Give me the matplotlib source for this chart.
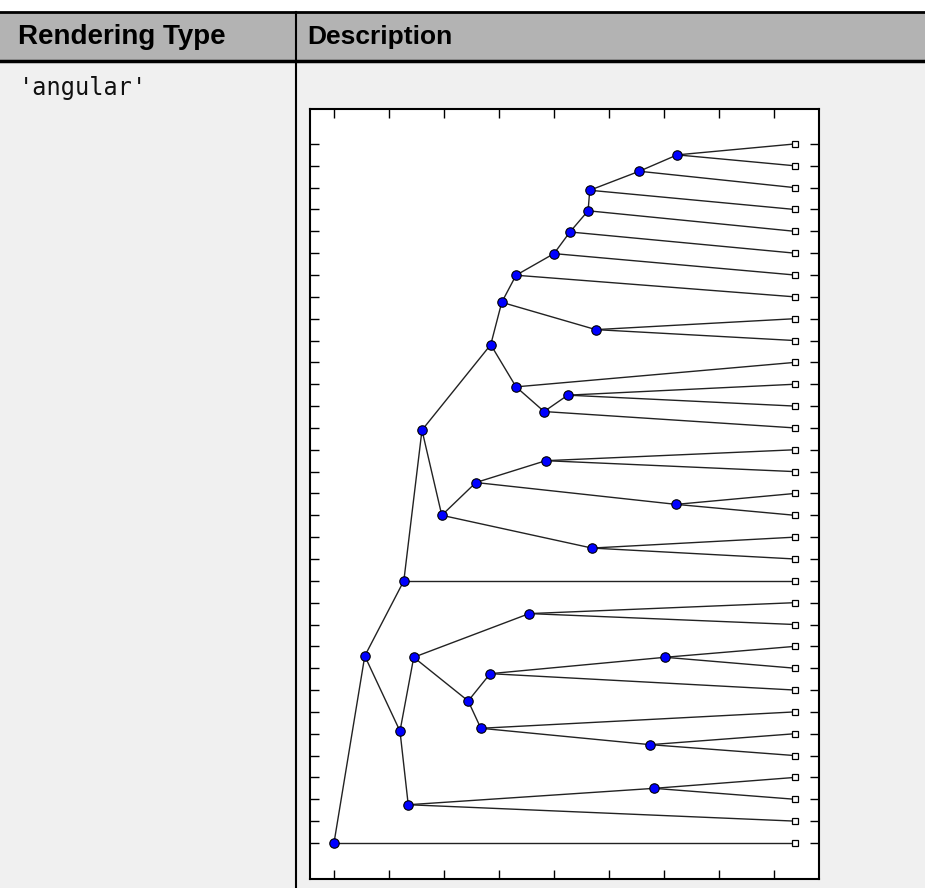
import matplotlib
matplotlib.use('Agg')
import matplotlib.pyplot as plt
from matplotlib.patches import Rectangle

# table texts
header_left = 'Rendering Type'
header_right = 'Description'
row_label = "'angular'"

# tree: 33 leaves, all at the same distance from the root
leaf_x = 8.38
leaf_y = list(range(1, 34))

# branch nodes: distance from root, vertical position
branch_names = ['Na', 'Nb', 'Nc', 'Nd', 'Ne', 'Nf', 'Ng', 'Nh', 'Ni', 'Nj', 'Nk',
                'Nl', 'Nm', 'Nn', 'No', 'Np', 'Nq', 'Nr', 'Ns', 'Nt', 'Nu', 'Nv',
                'Nw', 'Nx', 'Ny', 'Nz', 'Naa', 'Nbb', 'Ncc', 'Ndd', 'Nee', 'root']
branch_x = [6.24, 5.55, 4.65, 4.62, 4.29, 4.00, 3.31, 3.05, 4.76, 2.85, 3.31,
            3.82, 4.25, 1.60, 1.96, 2.58, 4.69, 3.85, 6.22, 1.27, 0.56, 1.20,
            1.45, 1.35, 5.82, 3.55, 2.44, 2.84, 2.67, 6.02, 5.75, 0.0]
branch_y = [1.5, 2.25, 3.12, 4.06, 5.03, 6.02, 7.01, 8.25, 9.5, 10.19, 12.12,
            13.25, 12.5, 14.1, 18.0, 16.5, 19.5, 15.5, 17.5, 21.0, 24.44, 27.88,
            24.5, 31.25, 30.5, 22.5, 26.5, 25.25, 27.75, 24.5, 28.5, 33.0]

# parent -> children (leaves are L1..L33)
children = {
    'Na': ['L1', 'L2'], 'Nb': ['Na', 'L3'], 'Nc': ['Nb', 'L4'], 'Nd': ['Nc', 'L5'],
    'Ne': ['Nd', 'L6'], 'Nf': ['Ne', 'L7'], 'Ng': ['Nf', 'L8'], 'Ni': ['L9', 'L10'],
    'Nh': ['Ng', 'Ni'], 'Nm': ['L12', 'L13'], 'Nl': ['Nm', 'L14'], 'Nk': ['L11', 'Nl'],
    'Nj': ['Nh', 'Nk'], 'Nr': ['L15', 'L16'], 'Ns': ['L17', 'L18'], 'Np': ['Nr', 'Ns'],
    'Nq': ['L19', 'L20'], 'No': ['Np', 'Nq'], 'Nn': ['Nj', 'No'], 'Nt': ['Nn', 'L21'],
    'Nz': ['L22', 'L23'], 'Ndd': ['L24', 'L25'], 'Nbb': ['Ndd', 'L26'],
    'Nee': ['L28', 'L29'], 'Ncc': ['L27', 'Nee'], 'Naa': ['Nbb', 'Ncc'],
    'Nw': ['Nz', 'Naa'], 'Ny': ['L30', 'L31'], 'Nx': ['Ny', 'L32'],
    'Nv': ['Nw', 'Nx'], 'Nu': ['Nt', 'Nv'], 'root': ['Nu', 'L33'],
}

pos = {}
for i, y in enumerate(leaf_y):
    pos['L%d' % (i + 1)] = (leaf_x, y)
for n, x, y in zip(branch_names, branch_x, branch_y):
    pos[n] = (x, y)

W, H = 925, 888
fig = plt.figure(figsize=(W / 100, H / 100), dpi=100)
fig.patch.set_facecolor('white')

# table background, drawn in pixel coords
tab = fig.add_axes([0, 0, 1, 1])
tab.set_xlim(0, W)
tab.set_ylim(H, 0)
tab.axis('off')
tab.add_patch(Rectangle((0, 12), W, 48, facecolor='#b3b3b3', edgecolor='none'))
tab.add_patch(Rectangle((0, 60), W, H - 60, facecolor='#f0f0f0', edgecolor='none'))
tab.plot([0, W], [12, 12], color='black', lw=2)
tab.plot([0, W], [61, 61], color='black', lw=2.5)
tab.plot([296, 296], [12, H], color='black', lw=1.5)
tab.text(18, 37, header_left, fontsize=20, fontweight='bold', family='Liberation Sans',
         va='center', ha='left', color='black')
tab.text(307, 37, header_right, fontsize=19, fontweight='bold', family='Liberation Sans',
         va='center', ha='left', color='black')
tab.text(19, 88, row_label, fontsize=17, family='DejaVu Sans Mono',
         va='center', ha='left', color='#111111')

# tree plot
ax = fig.add_axes([310 / W, 1 - 879 / H, (819 - 310) / W, (879 - 109) / H])
ax.set_facecolor('white')
for p, kids in children.items():
    for k in kids:
        x0, y0 = pos[p]
        x1, y1 = pos[k]
        ax.plot([x0, x1], [y0, y1], color='#222222', lw=1.0, zorder=1)
ax.plot(branch_x, branch_y, 'o', ms=6.8, mfc='#0000ff', mec='black', mew=0.8,
        ls='none', zorder=3)
ax.plot([leaf_x] * len(leaf_y), leaf_y, 's', ms=4.4, mfc='white', mec='black',
        mew=0.9, ls='none', zorder=3)

ax.set_xlim(-0.436, 8.818)
ax.set_ylim(34.65, -0.6)
ax.set_xticks(range(0, 9))
ax.set_yticks(leaf_y)
ax.set_xticklabels([])
ax.set_yticklabels([])
ax.tick_params(direction='in', length=6.5, width=1, top=True, right=True,
               bottom=True, left=True)
for s in ax.spines.values():
    s.set_linewidth(1.5)

plt.savefig('out.png', dpi=100)
